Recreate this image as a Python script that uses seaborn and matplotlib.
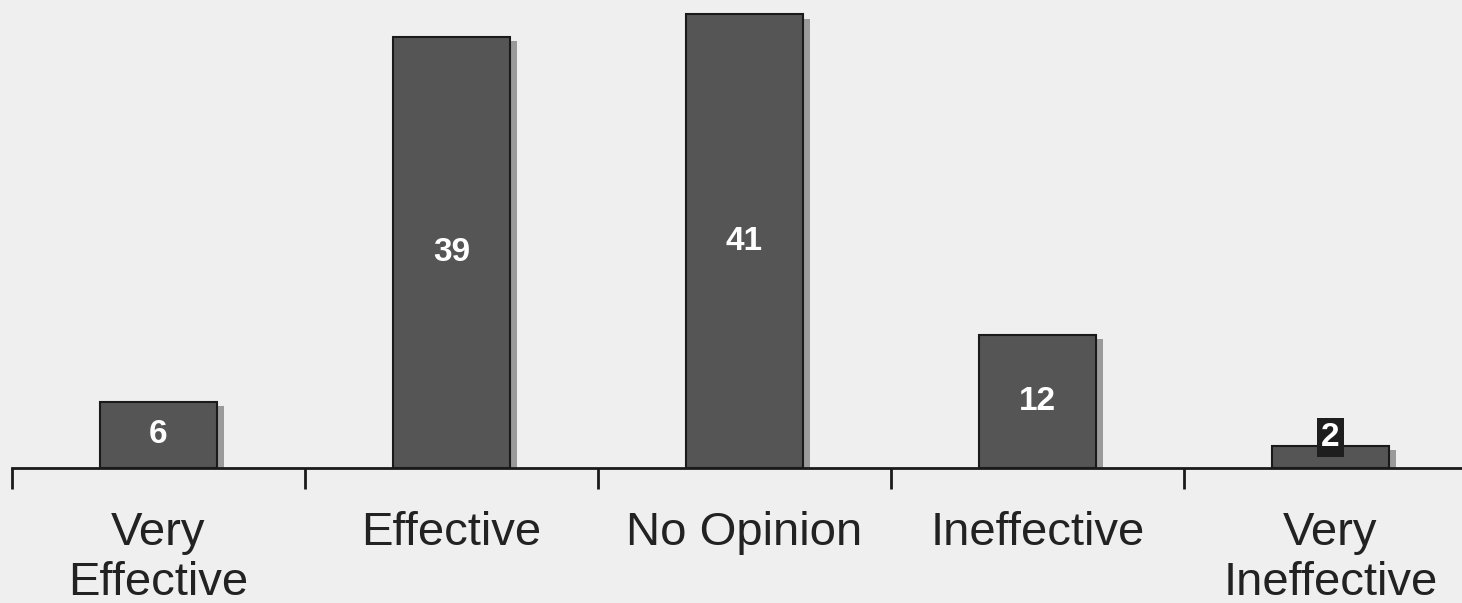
import matplotlib
matplotlib.use("Agg")
import matplotlib.pyplot as plt
import matplotlib.patheffects as pe
import seaborn as sns
import pandas as pd

categories = ["Very\nEffective", "Effective", "No Opinion", "Ineffective", "Very\nIneffective"]
values = [6, 39, 41, 12, 2]

df = pd.DataFrame({"category": categories, "value": values})

sns.set_style("white")
plt.rcParams["font.family"] = ["Liberation Sans", "DejaVu Sans"]

bg = "#efefef"
fig = plt.figure(figsize=(14.62, 6.03), dpi=100, facecolor=bg)
ax = fig.add_axes([12 / 1462, 135 / 603, 1465 / 1462, 468 / 603])
ax.set_facecolor(bg)

sns.barplot(data=df, x="category", y="value", color="#555555", width=0.4,
            saturation=1, edgecolor="#1a1a1a", linewidth=1.5, ax=ax)

for bar in ax.patches:
    bar.set_path_effects([pe.SimplePatchShadow(offset=(5, -3), shadow_rgbFace="#9a9a9a", alpha=1),
                          pe.Normal()])

for i, v in enumerate(values):
    if v < 4:
        ax.text(i, v + 0.8, str(v), ha="center", va="center", color="white",
                fontsize=24, fontweight="bold",
                bbox=dict(boxstyle="square,pad=0.12", facecolor="#1e1e1e", edgecolor="none"))
    else:
        ax.text(i, v / 2, str(v), ha="center", va="center", color="white",
                fontsize=24, fontweight="bold")

ax.set_ylim(0, 42.3)
ax.set_xlim(-0.5, 4.5)
ax.set_xlabel("")
ax.set_ylabel("")
ax.set_yticks([])
for s in ["top", "right", "left"]:
    ax.spines[s].set_visible(False)
ax.spines["bottom"].set_color("#1a1a1a")
ax.spines["bottom"].set_linewidth(2)

ax.set_xticks(range(len(categories)))
ax.set_xticklabels(categories, fontsize=34, color="#222222", linespacing=1.17)
ax.tick_params(axis="x", which="major", length=0, pad=31)
ax.set_xticks([i - 0.5 for i in range(len(categories))], minor=True)
ax.tick_params(axis="x", which="minor", bottom=True, length=15, width=2,
               color="#1a1a1a", direction="out")

fig.savefig("out.png", dpi=100, facecolor=bg)
